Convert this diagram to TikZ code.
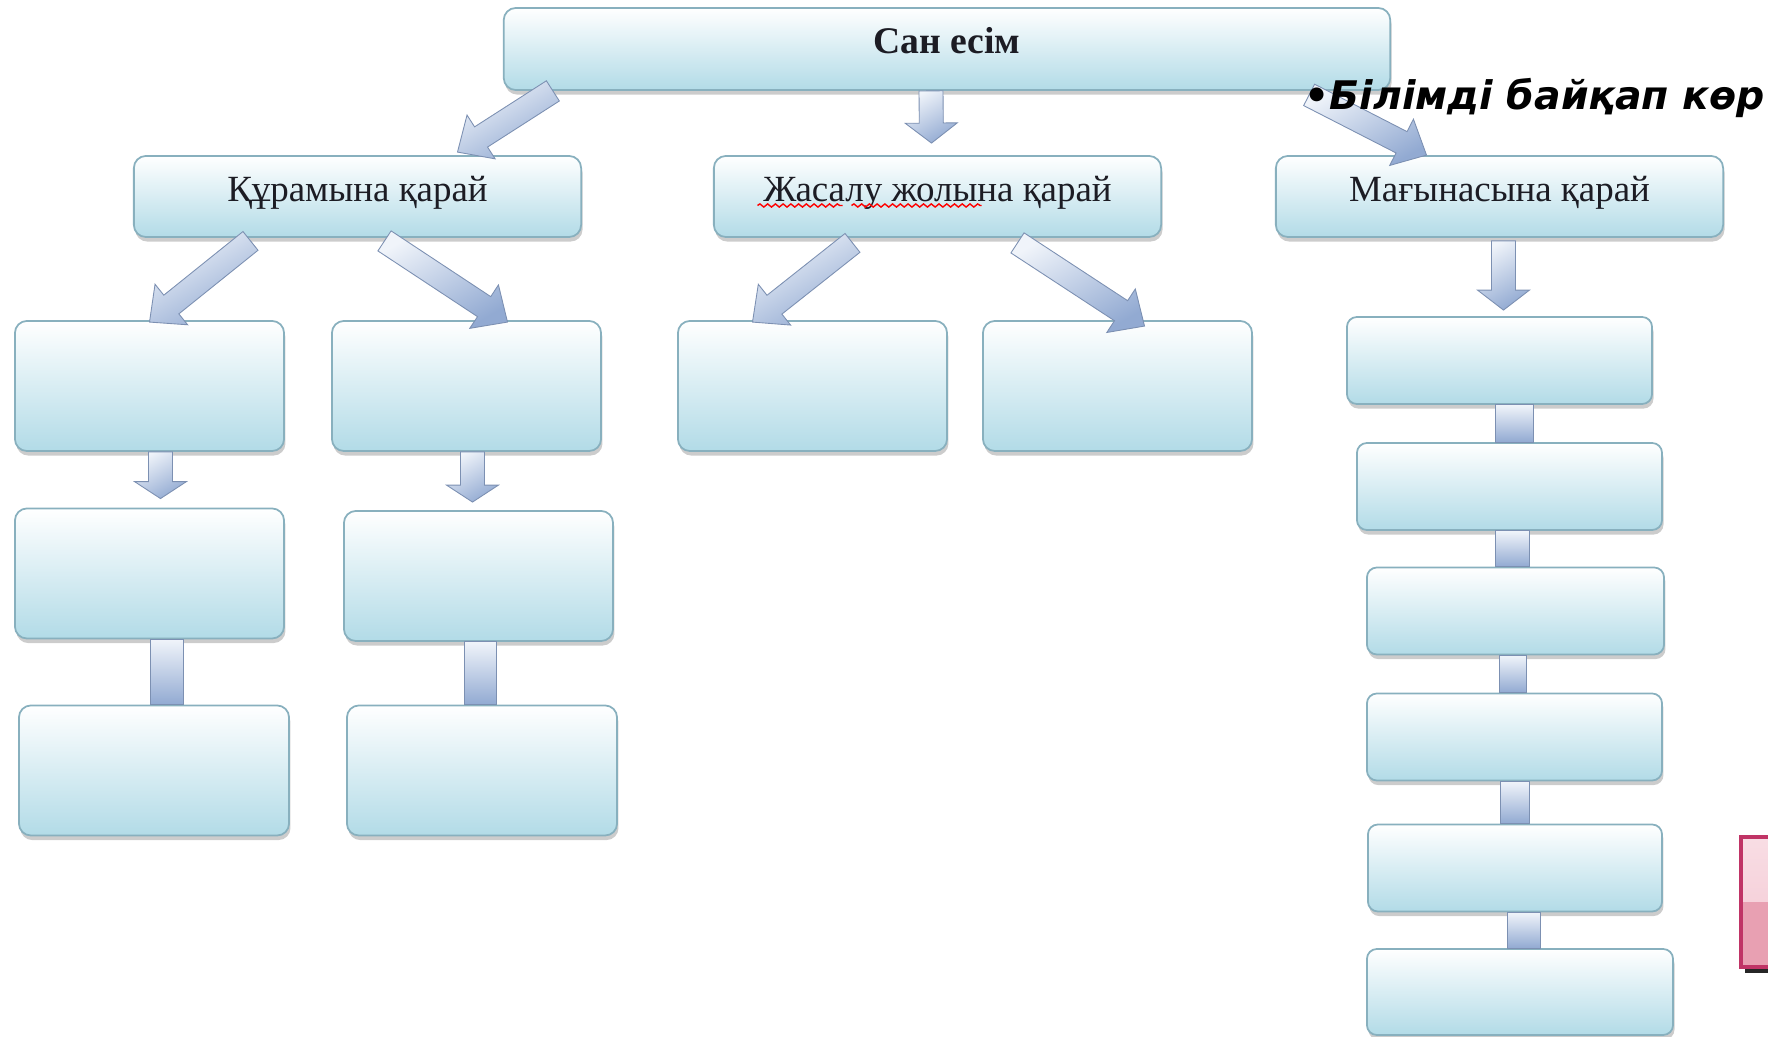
\documentclass[tikz,border=0pt]{standalone}
\usepackage{fontspec}
\setmainfont{Liberation Serif}
\newfontfamily\quizfont{DejaVu Sans}
\usetikzlibrary{positioning, calc, shadows, decorations.pathmorphing}

\definecolor{boxblue}{RGB}{178,219,231}
\definecolor{boxline}{RGB}{136,176,190}
\definecolor{arrowlight}{RGB}{240,244,250}
\definecolor{arrowdark}{RGB}{146,170,210}
\definecolor{pinklight}{RGB}{246,210,219}
\definecolor{pinkmid}{RGB}{232,160,178}
\definecolor{pinkdark}{RGB}{192,52,102}
\definecolor{labelink}{RGB}{28,28,36}

\tikzset{
x=0.01cm, y=-0.01cm, % one unit is one pixel of the slide, y grows downwards
box/.style={rectangle, rounded corners=1.2mm, draw=boxline, line width=0.5pt,
  top color=white, bottom color=boxblue, inner sep=0pt, text=labelink, font=\fontsize{10.5}{12}\selectfont,
  drop shadow={shadow xshift=0.4pt, shadow yshift=-1.3pt, fill=black!50, opacity=0.4}}, % the blue rounded boxes
wide/.style={box, minimum width=44.7mm, minimum height=8.1mm, text height=7.5pt, text depth=4.5pt}, % second row
tall/.style={box, minimum width=26.9mm, minimum height=13mm}, % the empty boxes on the left
strip/.style={box, rounded corners=1mm, minimum width=30.5mm, minimum height=8.7mm}, % the column on the right
blockarrow/.style={top color=arrowlight, bottom color=arrowdark, shading angle=30,
  draw=arrowdark!85!black, line width=0.25pt}, % fat shaded arrows
spell/.style={red, line width=0.4pt, decorate, decoration={snake, amplitude=0.45pt, segment length=2.2pt}}, % wavy underline
}

% fat arrow: #1 head length, #2 tail, #3 tip
\newcommand{\blockarrow}[3][0.28cm]{%
  \coordinate (ba-tail) at (#2);
  \coordinate (ba-tip) at (#3);
  \coordinate (ba-neck) at ($(ba-tip)!#1!(ba-tail)$);
  \path[blockarrow] ($(ba-tail)!0.12cm!90:(ba-tip)$) -- ($(ba-neck)!0.12cm!90:(ba-tip)$)
    -- ($(ba-neck)!0.26cm!90:(ba-tip)$) -- (ba-tip) -- ($(ba-neck)!0.26cm!-90:(ba-tip)$)
    -- ($(ba-neck)!0.12cm!-90:(ba-tip)$) -- ($(ba-tail)!0.12cm!-90:(ba-tip)$) -- cycle;
}
% plain bar between two boxes: #1 upper box, #2 lower box, #3 x offset
\newcommand{\blockbar}[3]{%
  \path[blockarrow, shading angle=0] ($(#1.south)+(#3-14,0)$) rectangle ($(#2.north)+(#3+14,0)$);
}

\begin{document}
\begin{tikzpicture}
\useasboundingbox (0,0) rectangle (1768,1037);

\node[box, minimum width=88.6mm, minimum height=8.2mm, text height=7.5pt, text depth=5pt,
  font=\fontsize{10.7}{12}\selectfont\bfseries] (top) at (947,49) {Сан есім};

\node[wide] (kur) at (357.5,196.5) {Құрамына қарай};
\node[wide] (jas) at (937.5,196.5) {Жасалу жолына қарай};
\node[wide] (mag) at (1499.5,196.5) {Мағынасына қарай};

\node[tall] (a1) at (149.5,386) {};
\node[tall] (b1) at (466.5,386) {};
\node[tall] (c1) at (812.5,386) {};
\node[tall] (d1) at (1117.5,386) {};
\node[tall] (a2) at (149.5,573.5) {};
\node[tall] (b2) at (478.5,576) {};
\node[tall, minimum width=27mm] (a3) at (154,770.5) {};
\node[tall, minimum width=27mm] (b3) at (482,770.5) {};

\node[strip] (r1) at (1499.5,360.5) {};
\node[strip] (r2) at (1509.5,486.5) {};
\node[strip, minimum width=29.7mm] (r3) at (1515.5,611) {};
\node[strip, minimum width=29.5mm] (r4) at (1514.5,737) {};
\node[strip, minimum width=29.4mm] (r5) at (1515,868) {};
\node[strip, minimum width=30.6mm, minimum height=8.6mm] (r6) at (1520,992) {};

% arrows
\blockarrow{$(top.south west)+(50,0)$}{$(kur.north)+(100,-3)$}
\blockarrow[0.2cm]{$(top.south)+(-16,0)$}{$(jas.north)+(-6,-12)$}
\blockarrow{$(top.south east)+(-82,4)$}{$(mag.north)+(-73,0)$}
\blockarrow{$(kur.south)+(-107,3)$}{$(a1.north)+(0,2)$}
\blockarrow{$(kur.south)+(27,3)$}{$(b1.north)+(41,2)$}
\blockarrow{$(jas.south)+(-85,5)$}{$(c1.north)+(-60,2)$}
\blockarrow{$(jas.south)+(80,5)$}{$(d1.north)+(27,6)$}
\blockarrow[0.2cm]{$(mag.south)+(4,3)$}{$(r1.north)+(4,-6)$}
\blockarrow[0.17cm]{$(a1.south)+(11,0)$}{$(a2.north)+(11,-9)$}
\blockarrow[0.17cm]{$(b1.south)+(6,0)$}{$(b2.north)+(-6,-8)$}

\blockbar{a2}{a3}{15}
\blockbar{b2}{b3}{0}
\blockbar{r1}{r2}{10}
\blockbar{r2}{r3}{0}
\blockbar{r3}{r4}{-2}
\blockbar{r4}{r5}{0}
\blockbar{r5}{r6}{6}

% spell checker marks
\draw[spell] ($(jas.center)+(-180,9)$) -- ++(85,0);
\draw[spell] ($(jas.center)+(-86,9)$) -- ++(130,0);

\node[anchor=west, inner sep=0pt, font=\quizfont\fontsize{11.2}{13}\selectfont\bfseries\itshape] (quiz) at (1304,98) {•Білімді байқап көр};

% cut pink button
\fill[black!85] (1745,842) rectangle (1800,973);
\fill[pinkmid] (1741,837) rectangle (1800,967);
\shade[top color=pinklight!75!white, bottom color=pinklight] (1741,837) rectangle (1800,902);
\draw[pinkdark, line width=1.1pt] (1741,837) rectangle (1800,967);
\end{tikzpicture}
\end{document}
